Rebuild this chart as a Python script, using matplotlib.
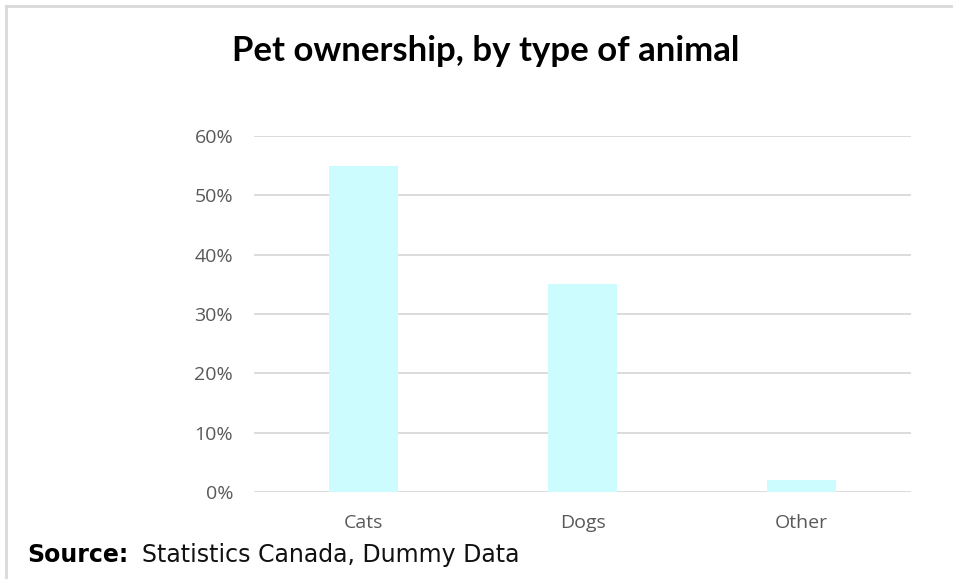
import matplotlib
matplotlib.use("Agg")
import matplotlib.pyplot as plt
from matplotlib.lines import Line2D
from matplotlib.ticker import PercentFormatter

animals = ["Cats", "Dogs", "Other"]
share = [0.55, 0.35, 0.02]
yticks = [0, 0.1, 0.2, 0.3, 0.4, 0.5, 0.6]

W, H = 954, 579
fig = plt.figure(figsize=(W / 100, H / 100), dpi=100)

# frame lines around the chart area
fig.add_artist(Line2D([6 / W, 6 / W], [0, 1 - 6 / H], color="#d9d9d9", lw=2))
fig.add_artist(Line2D([6 / W, 1], [1 - 6 / H, 1 - 6 / H], color="#d9d9d9", lw=2))

ax = fig.add_axes([254 / W, 1 - 492 / H, 657 / W, 356 / H])
ax.bar(range(len(animals)), share, width=0.315, color="#ccfcfd", zorder=3)
ax.set_xlim(-0.5, len(animals) - 0.5)
ax.set_ylim(0, 0.6)
ax.set_yticks(yticks)
ax.yaxis.set_major_formatter(PercentFormatter(1.0, decimals=0))
ax.set_xticks(range(len(animals)))
ax.set_xticklabels(animals)
ax.grid(axis="y", color="#d9d9d9", lw=1.3, zorder=0)
for s in ax.spines.values():
    s.set_visible(False)
ax.tick_params(axis="both", length=0, colors="#595959", labelsize=14)
ax.tick_params(axis="y", pad=15)
ax.tick_params(axis="x", pad=16)
for lab in ax.get_xticklabels() + ax.get_yticklabels():
    lab.set_family("Open Sans")

fig.text(486 / W, 1 - 51 / H, "Pet ownership, by type of animal",
         ha="center", va="center", fontsize=25, fontweight="bold", family="Lato")

src = fig.text(27 / W, 1 - 555 / H, "Source:", ha="left", va="center",
               fontsize=17, fontweight="bold", family="DejaVu Sans")
fig.canvas.draw()
bb = src.get_window_extent(renderer=fig.canvas.get_renderer())
fig.text((bb.x1 + 14) / W, 1 - 555 / H, "Statistics Canada, Dummy Data",
         ha="left", va="center", fontsize=17, family="DejaVu Sans", color="#111111")

fig.savefig("out.png", dpi=100)
